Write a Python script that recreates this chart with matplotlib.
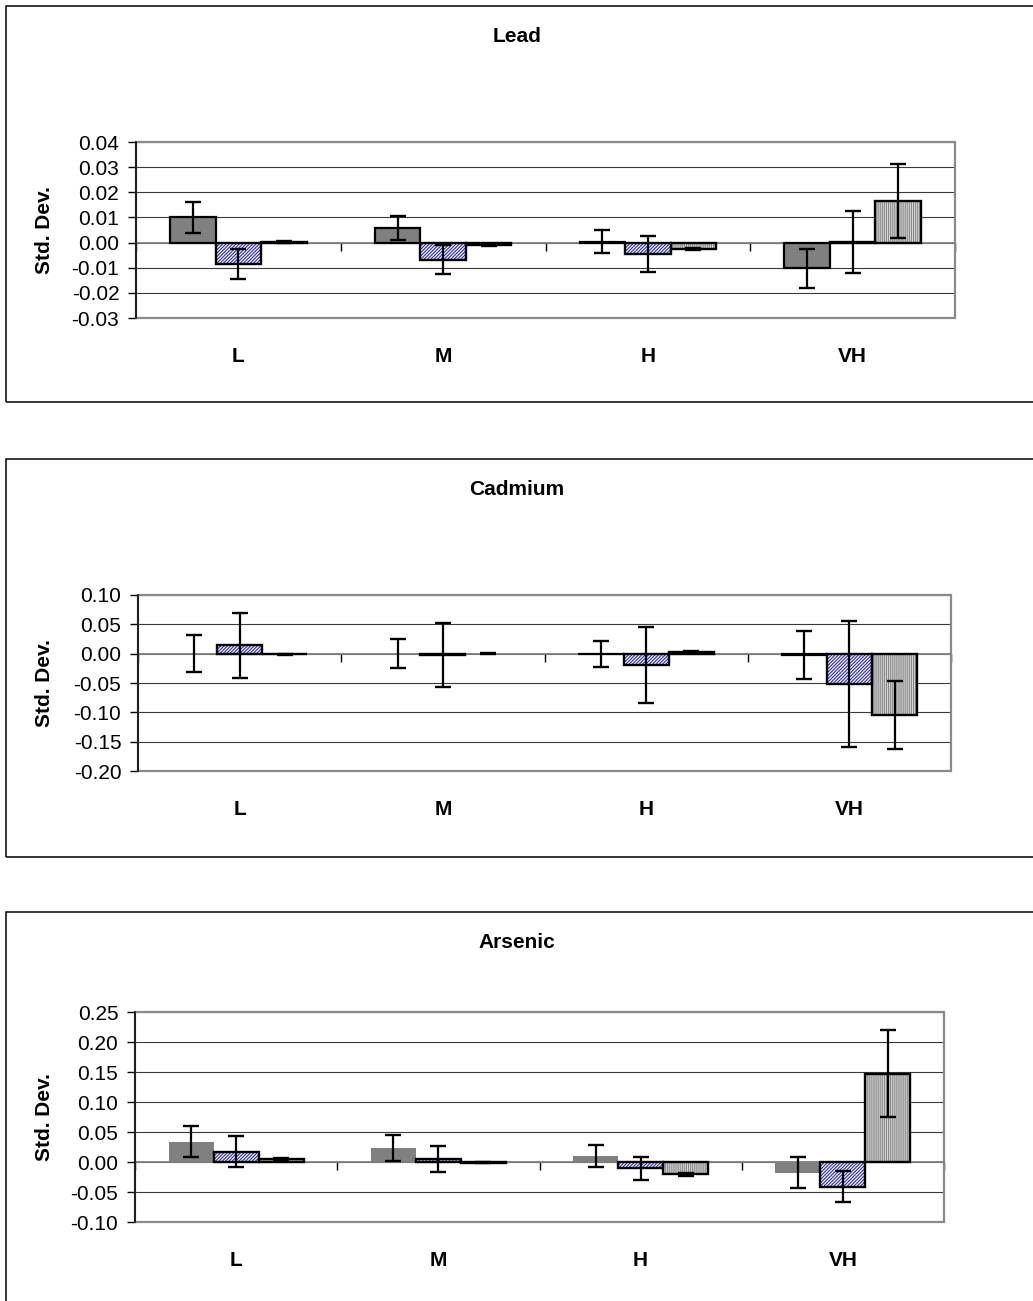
import matplotlib
matplotlib.use("Agg")
import matplotlib.pyplot as plt
from matplotlib.patches import Rectangle
import numpy as np

plt.rcParams['font.family'] = ['Liberation Sans', 'DejaVu Sans']
plt.rcParams['axes.unicode_minus'] = False
plt.rcParams['hatch.linewidth'] = 0.8

# ---------------- data ----------------
categories = ['L', 'M', 'H', 'VH']

lead_s1 = [0.0100, 0.0058, 0.0003, -0.0103]
lead_s1_err = [0.0060, 0.0048, 0.0046, 0.0077]
lead_s2 = [-0.0086, -0.0068, -0.0045, 0.0002]
lead_s2_err = [0.0060, 0.0058, 0.0073, 0.0122]
lead_s3 = [0.0003, -0.0010, -0.0025, 0.0166]
lead_s3_err = [0.0003, 0.0004, 0.0005, 0.0146]
lead_yticks = [-0.03, -0.02, -0.01, 0.00, 0.01, 0.02, 0.03, 0.04]

cd_s1 = [0.0, 0.0, -0.001, -0.002]
cd_s1_err = [0.032, 0.025, 0.022, 0.041]
cd_s2 = [0.014, -0.002, -0.019, -0.052]
cd_s2_err = [0.056, 0.054, 0.065, 0.1075]
cd_s3 = [-0.001, 0.0, 0.003, -0.104]
cd_s3_err = [0.0005, 0.001, 0.002, 0.058]
cd_yticks = [-0.20, -0.15, -0.10, -0.05, 0.00, 0.05, 0.10]

as_s1 = [0.034, 0.023, 0.010, -0.018]
as_s1_err = [0.026, 0.0214, 0.0186, 0.026]
as_s2 = [0.017, 0.005, -0.0105, -0.041]
as_s2_err = [0.026, 0.0217, 0.0187, 0.026]
as_s3 = [0.005, -0.001, -0.0205, 0.1475]
as_s3_err = [0.0015, 0.001, 0.002, 0.0725]
as_yticks = [-0.10, -0.05, 0.00, 0.05, 0.10, 0.15, 0.20, 0.25]

titles = ['Lead', 'Cadmium', 'Arsenic']
ylabel = 'Std. Dev.'

# ---------------- layout (pixels) ----------------
W, H = 1033, 1301
fig = plt.figure(figsize=(W / 100, H / 100), dpi=100)

panels = [
    dict(title=titles[0], series=[(lead_s1, lead_s1_err), (lead_s2, lead_s2_err), (lead_s3, lead_s3_err)],
         yticks=lead_yticks, plot=(136, 955, 142, 318), box=(6, 6, 1040, 402), title_y=36, s1_edge=1.6),
    dict(title=titles[1], series=[(cd_s1, cd_s1_err), (cd_s2, cd_s2_err), (cd_s3, cd_s3_err)],
         yticks=cd_yticks, plot=(138, 951, 595, 771), box=(6, 459, 1040, 857), title_y=489, s1_edge=1.6),
    dict(title=titles[2], series=[(as_s1, as_s1_err), (as_s2, as_s2_err), (as_s3, as_s3_err)],
         yticks=as_yticks, plot=(135, 944, 1012, 1222), box=(6, 912, 1040, 1320), title_y=942, s1_edge=0),
]

styles = [
    dict(face='#808080', hatch=None, hcolor='#808080'),
    dict(face='#f0f0ff', hatch='/' * 10, hcolor='#34349c'),
    dict(face='#d8d8d8', hatch='|' * 8, hcolor='#888888'),
]

FS = 15
w = 1 / 4.5
offsets = [-w, 0, w]
x = np.arange(len(categories))

for p in panels:
    l, r, t, b = p['plot']
    ax = fig.add_axes([l / W, 1 - b / H, (r - l) / W, (b - t) / H])

    # outer chart box
    bx0, by0, bx1, by1 = p['box']
    fig.patches.append(Rectangle((bx0 / W, 1 - by1 / H), (bx1 - bx0) / W, (by1 - by0) / H,
                                 transform=fig.transFigure, fill=False, edgecolor='black',
                                 linewidth=1.1, zorder=0))
    fig.text(517 / W, 1 - p['title_y'] / H, p['title'], ha='center', va='center',
             fontsize=FS, fontweight='bold')

    for k, ((vals, errs), st) in enumerate(zip(p['series'], styles)):
        xs = x + offsets[k]
        ax.bar(xs, vals, width=w, color=st['face'], hatch=st['hatch'], edgecolor=st['hcolor'],
               linewidth=0, zorder=2)
        edge_lw = p['s1_edge'] if k == 0 else 1.7
        lws = [edge_lw if v != 0 else 0 for v in vals]
        ax.bar(xs, vals, width=w, fill=False, edgecolor='black', linewidth=lws, zorder=3)
        ax.errorbar(xs, vals, yerr=errs, fmt='none', ecolor='black', elinewidth=1.6,
                    capsize=6, capthick=1.7, zorder=4)

    yt = p['yticks']
    ax.set_ylim(yt[0], yt[-1])
    ax.set_yticks(yt)
    ax.set_yticklabels(['%.2f' % v for v in yt], fontsize=FS)
    ax.yaxis.grid(True, color='#3a3a3a', linewidth=0.8)
    ax.set_axisbelow(True)

    ax.set_xlim(-0.5, len(categories) - 0.5)
    ax.set_xticks(np.arange(len(categories) + 1) - 0.5)
    ax.set_xticklabels([])
    ax.tick_params(axis='x', direction='out', length=6, width=1, color='black')
    ax.tick_params(axis='y', direction='out', length=6, width=1, color='black', pad=6)

    ax.spines['bottom'].set_position(('data', 0))
    ax.spines['bottom'].set_color('#808080')
    ax.spines['bottom'].set_linewidth(1.3)
    ax.spines['bottom'].set_zorder(1.5)
    ax.spines['top'].set_visible(False)
    ax.spines['right'].set_visible(False)
    ax.spines['left'].set_color('black')
    ax.spines['left'].set_linewidth(1.1)
    ax.add_patch(Rectangle((0, 0), 1, 1, transform=ax.transAxes, fill=False,
                           edgecolor='#8a8a8a', linewidth=1.6, zorder=1.4, clip_on=False))
    ax.spines['left'].set_zorder(1.6)

    for i, c in enumerate(categories):
        ax.annotate(c, xy=(x[i], 0), xycoords=('data', 'axes fraction'),
                    xytext=(0, -28), textcoords='offset points', ha='center', va='center',
                    fontsize=FS, fontweight='bold')

    ax.set_ylabel(ylabel, fontsize=FS, fontweight='bold')
    ax.yaxis.set_label_coords((54 - l) / (r - l), 0.5)

fig.savefig('out.png', dpi=100)
